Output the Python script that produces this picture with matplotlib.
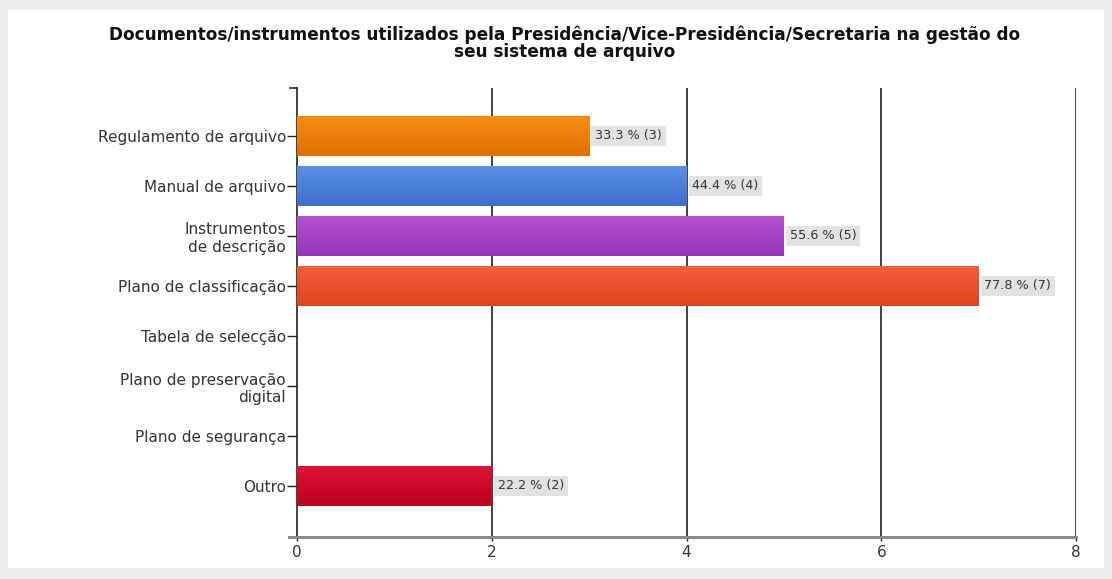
import numpy as np
import matplotlib.pyplot as plt
from matplotlib.colors import LinearSegmentedColormap
from matplotlib.patches import Rectangle
from matplotlib.lines import Line2D

plt.rcParams['font.family'] = ['DejaVu Sans']

categorias = ["Regulamento de arquivo", "Manual de arquivo", "Instrumentos\nde descrição",
              "Plano de classificação", "Tabela de selecção", "Plano de preservação\ndigital",
              "Plano de segurança", "Outro"]
contagens = [3, 4, 5, 7, 0, 0, 0, 2]
percentagens = [33.3, 44.4, 55.6, 77.8, 0.0, 0.0, 0.0, 22.2]
cores_topo = ["#f78c12", "#5b90e4", "#b552d4", "#f45e3c", "#dc1434", "", "", "#dc1434"]
cores_base = ["#e07000", "#3c6ecb", "#9633b6", "#e0421f", "#bd0020", "", "", "#bd0020"]
ticks_x = [0, 2, 4, 6, 8]

fig = plt.figure(figsize=(11.12, 5.79), dpi=100, facecolor="#efefef")
# white panel inside the grey page border
fig.patches.append(Rectangle((8 / 1112, 1 - 568 / 579), 1096 / 1112, 558 / 579,
                             transform=fig.transFigure, facecolor="white",
                             edgecolor="none", zorder=-5))

ax = fig.add_axes([297 / 1112, 1 - 537 / 579, 779 / 1112, 449 / 579])
ax.set_zorder(2)
ax.set_facecolor("white")

y = np.arange(len(categorias))
altura = 0.8
barras = ax.barh(y, contagens, height=altura, color="none", edgecolor="none", zorder=3)

grad = np.linspace(0, 1, 64).reshape(-1, 1)
for i, b in enumerate(barras):
    if contagens[i] == 0:
        continue
    cmap = LinearSegmentedColormap.from_list("g", [cores_topo[i], cores_base[i]])
    im = ax.imshow(grad, cmap=cmap, aspect="auto", zorder=3,
                   extent=[0, contagens[i], y[i] + altura / 2, y[i] - altura / 2])
    im.set_clip_path(b)
    ax.text(contagens[i] + 0.06, y[i], f"{percentagens[i]:.1f} % ({contagens[i]})",
            va="center", ha="left", fontsize=9.2, color="#333333", zorder=5,
            bbox=dict(boxstyle="square,pad=0.3", facecolor="#e2e2e2", edgecolor="none"))

ax.set_xlim(0, 8)
ax.set_ylim(8.02, -0.96)

for v in ticks_x[1:]:
    ax.axvline(v, color="#222222", lw=1.2, zorder=2)

for s in ["top", "right", "bottom"]:
    ax.spines[s].set_visible(False)
ax.spines["left"].set_color("#222222")
ax.spines["left"].set_linewidth(1.2)

# grey base line and small top hook of the value axis
ax.add_line(Line2D([-0.01, 1.0], [0, 0], transform=ax.transAxes, color="#8a8a8a",
                   lw=2.2, clip_on=False, zorder=4))
ax.add_line(Line2D([-0.009, 0], [1, 1], transform=ax.transAxes, color="#222222",
                   lw=1.2, clip_on=False))

ax.set_xticks(ticks_x)
ax.set_xticklabels([str(t) for t in ticks_x])
ax.tick_params(axis="x", length=3, width=1.0, colors="#222222", labelcolor="#333333",
               labelsize=11, pad=3)
ax.set_yticks(y)
ax.set_yticklabels(categorias, multialignment="right")
ax.tick_params(axis="y", length=7, width=1.0, colors="#222222", labelcolor="#333333",
               labelsize=11, pad=1)

fig.text(0.508, 1 - 43 / 579,
         "Documentos/instrumentos utilizados pela Presidência/Vice-Presidência/Secretaria na gestão do\n"
         "seu sistema de arquivo",
         ha="center", va="center", fontsize=12.2, fontweight="bold", color="#111111",
         linespacing=0.92)

fig.savefig("out.png", dpi=100, facecolor=fig.get_facecolor())
